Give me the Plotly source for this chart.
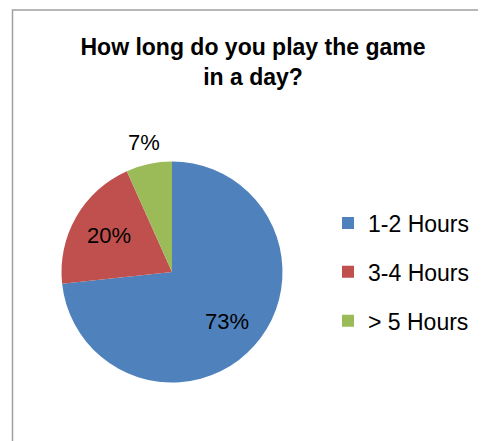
import math
import plotly.graph_objects as go

categories = ["1-2 Hours", "3-4 Hours", "> 5 Hours"]
values = [73.3, 20.0, 6.7]
colors = ["#4F81BD", "#C0504D", "#9BBB59"]
title_text = "How long do you play the game<br>in a day?"

W, H = 486, 441
OFF = 8  # page body margin of the browser
FONT = "Liberation Sans"


def fx(px):
    return (px - OFF) / W


def fy(py):
    return 1 - (py - OFF) / H


# pie geometry (in screen pixels of the reference)
CX, CY, R = 172.0, 272.0, 110.5

fig = go.Figure()
fig.add_trace(go.Pie(
    labels=categories,
    values=values,
    sort=False,
    direction="clockwise",
    rotation=0,
    marker=dict(colors=colors, line=dict(width=0)),
    textinfo="none",
    showlegend=False,
    hoverinfo="label+percent",
    domain=dict(x=[fx(CX - R), fx(CX + R)], y=[fy(CY + R), fy(CY - R)]),
))

# percentage labels derived from the values and the pie's angles
total = sum(values)
label_radius = [0.67, 0.66, 1.2]
annotations = []
cum = 0.0
for v, rr in zip(values, label_radius):
    mid = (cum + v / 2) / total * 2 * math.pi
    cum += v
    lx = CX + rr * R * math.sin(mid)
    ly = CY - rr * R * math.cos(mid)
    annotations.append(dict(
        text=f"{round(v / total * 100)}%", x=fx(lx), y=fy(ly), xref="paper", yref="paper",
        xanchor="center", yanchor="middle", showarrow=False,
        font=dict(family=FONT, size=22, color="#000000")))

for name, col in zip(categories, colors):
    fig.add_trace(go.Scatter(
        x=[None], y=[None], mode="markers", name=name, legendgroup=name,
        marker=dict(symbol="square", size=12, color=col, line=dict(width=0)),
    ))

fig.update_layout(
    width=W, height=H,
    margin=dict(l=0, r=0, t=0, b=0),
    paper_bgcolor="white", plot_bgcolor="white",
    font=dict(family=FONT, color="#000000"),
    title=dict(text=title_text, x=245 / W, xanchor="center", y=1 - 47 / H, yanchor="top",
               xref="paper", yref="container",
               font=dict(family=FONT, size=23, color="#000000", weight="bold")),
    xaxis=dict(visible=False), yaxis=dict(visible=False),
    legend=dict(x=fx(328), xanchor="left", y=fy(201.5), yanchor="top",
                font=dict(family=FONT, size=23, color="#000000"),
                traceorder="grouped", tracegroupgap=16,
                bgcolor="rgba(0,0,0,0)"),
    annotations=annotations,
    shapes=[dict(type="rect", xref="paper", yref="paper",
                 x0=fx(12.5), x1=1.05, y0=-0.05, y1=fy(10),
                 line=dict(color="#a0a0a0", width=1.5), fillcolor="rgba(0,0,0,0)", layer="below")],
)

fig.write_html("out.html")
